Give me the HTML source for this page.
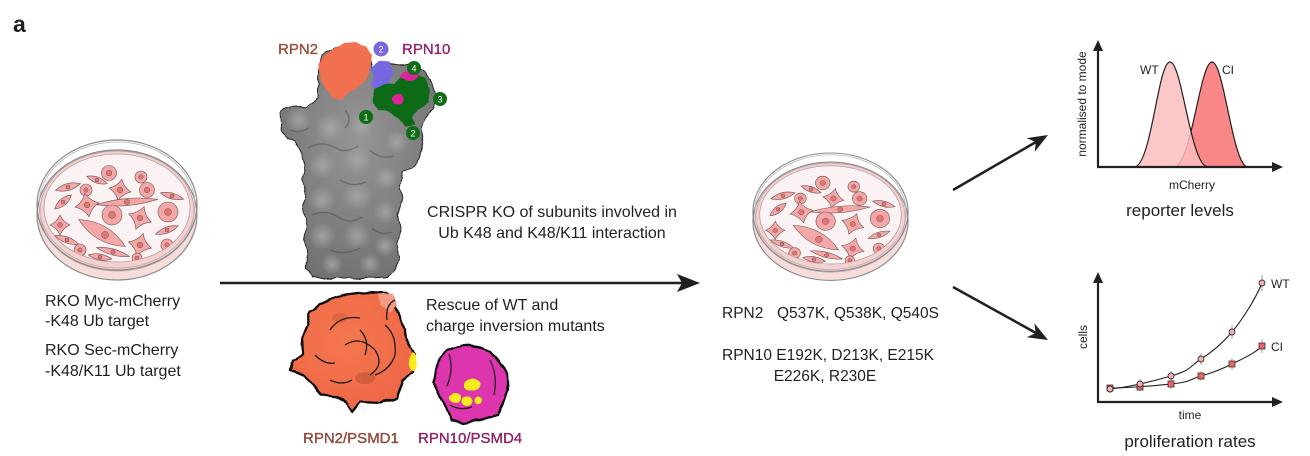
<!DOCTYPE html>
<html><head><meta charset="utf-8"><style>
html,body{margin:0;padding:0;background:#fff;}
svg{display:block;}
</style></head><body>
<svg width="1310" height="456" viewBox="0 0 1310 456" xmlns="http://www.w3.org/2000/svg" font-family="'Liberation Sans', sans-serif">
<defs>
 <filter id="bump" x="-10%" y="-10%" width="120%" height="120%"><feTurbulence type="fractalNoise" baseFrequency="0.13" numOctaves="1" seed="4" result="n"/><feDisplacementMap in="SourceGraphic" in2="n" scale="4" xChannelSelector="R" yChannelSelector="G"/></filter>
 <filter id="bump2" x="-10%" y="-10%" width="120%" height="120%"><feTurbulence type="fractalNoise" baseFrequency="0.1" numOctaves="1" seed="9" result="n"/><feDisplacementMap in="SourceGraphic" in2="n" scale="4" xChannelSelector="R" yChannelSelector="G"/></filter>
 <radialGradient id="gg" cx="50%" cy="40%" r="65%"><stop offset="0" stop-color="#969696"/><stop offset="1" stop-color="#707070"/></radialGradient>
 <radialGradient id="hl"><stop offset="0" stop-color="#a8a8a8" stop-opacity=".85"/><stop offset="1" stop-color="#a8a8a8" stop-opacity="0"/></radialGradient>
 <radialGradient id="og" cx="45%" cy="40%" r="65%"><stop offset="0" stop-color="#f5774f"/><stop offset="1" stop-color="#ee6746"/></radialGradient>
 <clipPath id="dishclip"><ellipse cx="0" cy="-2" rx="73" ry="54"/></clipPath>
 <g id="dish">
  <ellipse cx="0" cy="5" rx="80" ry="65" fill="#f7dcdc" stroke="#8a8a8a" stroke-width="1.2"/>
  <ellipse cx="0" cy="1" rx="77" ry="60" fill="#f4d0d0" stroke="#b49a9a" stroke-width=".7"/>
  <ellipse cx="0" cy="-2" rx="73" ry="54" fill="#fbf3f3" stroke="#b89c9c" stroke-width=".8"/>
  <g clip-path="url(#dishclip)">
   <g fill="#f3a7a7" stroke="#6e5050" stroke-width=".6">
    <circle cx="-8" cy="-37" r="7.5"/>
    <circle cx="24" cy="-33" r="6"/>
    <path d="M-11,0 Q0,-6 11,0 Q0,6 -11,0Z" transform="translate(-20,-30) rotate(20)"/>
    <path d="M-13,0 Q0,-7 13,0 Q0,7 -13,0Z" transform="translate(-49,-23) rotate(-15)"/>
    <circle cx="-31" cy="-20" r="6"/>
    <path d="M-11,0 Q-3.3,-3.3 0,-11 Q3.3,-3.3 11,0 Q3.3,3.3 0,11 Q-3.3,3.3 -11,0Z" transform="translate(3,-20) rotate(10)"/>
    <circle cx="30" cy="-20" r="7.5"/>
    <path d="M-12,0 Q0,-6 12,0 Q0,6 -12,0Z" transform="translate(55,-14) rotate(15)"/>
    <path d="M-11,0 Q0,-7 11,0 Q0,7 -11,0Z" transform="translate(-54,-8) rotate(-40)"/>
    <path d="M-12,0 Q-3.6,-3.6 0,-12 Q3.6,-3.6 12,0 Q3.6,3.6 0,12 Q-3.6,3.6 -12,0Z" transform="translate(-30,-5) rotate(-10)"/>
    <path d="M-31,0 Q0,-7 31,0 Q0,7 -31,0Z" transform="translate(10,-8) rotate(-5)"/>
    <circle cx="-5" cy="5" r="10"/>
    <path d="M-12,0 Q-3.6,-3.6 0,-12 Q3.6,-3.6 12,0 Q3.6,3.6 0,12 Q-3.6,3.6 -12,0Z" transform="translate(23,8) rotate(20)"/>
    <circle cx="51" cy="2" r="10"/>
    <path d="M-10,0 Q-3,-3 0,-10 Q3,-3 10,0 Q3,3 0,10 Q-3,3 -10,0Z" transform="translate(-57,15)"/>
    <path d="M-27,0 Q0,-14 27,0 Q0,14 -27,0Z" transform="translate(-15,23) rotate(30)"/>
    <path d="M-12,0 Q0,-6 12,0 Q0,6 -12,0Z" transform="translate(50,20) rotate(-20)"/>
    <path d="M-12,0 Q-3.6,-3.6 0,-12 Q3.6,-3.6 12,0 Q3.6,3.6 0,12 Q-3.6,3.6 -12,0Z" transform="translate(23,35) rotate(15)"/>
    <path d="M-13,0 Q0,-6 13,0 Q0,6 -13,0Z" transform="translate(-50,30) rotate(20)"/>
    <circle cx="-37" cy="40" r="6"/>
    <path d="M-17,0 Q0,-6 17,0 Q0,6 -17,0Z" transform="translate(-4,42) rotate(15)"/>
    <circle cx="20" cy="48" r="5"/>
    <circle cx="50" cy="35" r="6"/>
    <path d="M-12,0 Q0,-6 12,0 Q0,6 -12,0Z" transform="translate(-17,47) rotate(10)"/>
   </g>
   <g fill="#e27676" stroke="#6e5050" stroke-width=".5">
    <circle cx="-8" cy="-37" r="2.8"/><circle cx="24" cy="-33" r="2.2"/><circle cx="-20" cy="-30" r="2"/>
    <circle cx="-49" cy="-23" r="2"/><circle cx="-31" cy="-20" r="2.2"/><circle cx="3" cy="-20" r="2.8"/>
    <circle cx="30" cy="-20" r="2.8"/><circle cx="55" cy="-14" r="2"/><circle cx="-54" cy="-8" r="2"/>
    <circle cx="-30" cy="-5" r="2.8"/><circle cx="10" cy="-8" r="2.6"/><circle cx="-5" cy="5" r="3.5"/>
    <circle cx="23" cy="8" r="2.8"/><circle cx="51" cy="2" r="3.5"/><circle cx="-57" cy="15" r="2.4"/>
    <circle cx="-12" cy="25" r="3.5"/><circle cx="50" cy="20" r="2"/><circle cx="23" cy="35" r="2.8"/>
    <circle cx="-50" cy="30" r="2"/><circle cx="-37" cy="40" r="2.2"/><circle cx="-4" cy="42" r="2.2"/>
    <circle cx="20" cy="48" r="2"/><circle cx="50" cy="35" r="2.2"/><circle cx="-17" cy="47" r="2"/>
   </g>
  </g>
  <ellipse cx="0" cy="-5" rx="80" ry="65" fill="none" stroke="#8a8a8a" stroke-width="1.2"/>
  <ellipse cx="0" cy="-5" rx="78" ry="63" fill="none" stroke="#b0b0b0" stroke-width=".8"/>
 </g>
</defs>

<rect width="1310" height="456" fill="#fff"/>

<text x="13" y="32" font-size="23" font-weight="bold" fill="#231f20">a</text>

<use href="#dish" transform="translate(117,210)"/>

<g font-size="16" fill="#231f20">
 <text x="45" y="306">RKO Myc-mCherry</text>
 <text x="45" y="326">-K48 Ub target</text>
 <text x="45" y="355">RKO Sec-mCherry</text>
 <text x="45" y="376">-K48/K11 Ub target</text>
</g>

<!-- gray proteasome -->
<g filter="url(#bump)">
 <polygon fill="url(#gg)" stroke="#2a2a2a" stroke-width="1" stroke-linejoin="round" points="281,125 280,113 286,107 296,106 305,108 312,104 318,98 318,70 322,55 335,48 350,44 362,48 370,58 372,68 385,62 398,66 412,63 425,72 432,82 436,96 433,108 426,118 421,128 423,142 420,158 412,168 403,172 400,185 402,200 398,215 401,230 397,245 399,260 394,272 385,278 370,277 355,279 340,277 325,279 312,276 306,268 308,255 304,240 307,225 303,210 306,195 302,180 305,165 301,152 296,142 288,138 282,132"/>
</g>
<g>
 <circle cx="298" cy="120" r="13" fill="url(#hl)"/><circle cx="330" cy="128" r="15" fill="url(#hl)"/>
 <circle cx="362" cy="125" r="12" fill="url(#hl)"/><circle cx="397" cy="142" r="12" fill="url(#hl)"/>
 <circle cx="322" cy="165" r="14" fill="url(#hl)"/><circle cx="357" cy="160" r="14" fill="url(#hl)"/>
 <circle cx="386" cy="178" r="12" fill="url(#hl)"/><circle cx="322" cy="200" r="14" fill="url(#hl)"/>
 <circle cx="357" cy="196" r="15" fill="url(#hl)"/><circle cx="385" cy="212" r="12" fill="url(#hl)"/>
 <circle cx="322" cy="236" r="14" fill="url(#hl)"/><circle cx="357" cy="236" r="14" fill="url(#hl)"/>
 <circle cx="385" cy="246" r="11" fill="url(#hl)"/><circle cx="332" cy="264" r="11" fill="url(#hl)"/>
 <circle cx="370" cy="264" r="11" fill="url(#hl)"/>
 <g fill="none" stroke="#4f4f4f" stroke-width="1.3" opacity=".55">
  <path d="M308,148 q14,-8 28,0 q10,6 22,-2"/>
  <path d="M340,180 q12,8 26,2"/>
  <path d="M370,150 q10,10 24,6"/>
  <path d="M312,215 q14,-6 26,2 q12,8 24,0"/>
  <path d="M330,250 q14,6 30,-2"/>
  <path d="M372,228 q8,8 20,4"/>
  <path d="M290,130 q10,4 18,-2"/>
  <path d="M345,110 q8,10 0,18"/>
 </g>
</g>

<g filter="url(#bump2)">
 <polygon fill="#f0704f" points="320,78 318,65 325,55 335,48 345,43 356,42 366,46 372,55 370,68 366,80 358,88 348,92 342,100 332,98 326,88"/>
 <polygon fill="#7567e0" points="370,68 379,61 390,62 394,72 390,80 386,90 377,92 371,84 373,76"/>
 <polygon fill="#0b6b12" points="372,100 375,88 385,85 395,84 401,76 412,73 425,78 430,90 428,103 418,110 412,118 415,125 405,126 398,118 388,112 378,110"/>
 <ellipse cx="409" cy="76" rx="9" ry="5" fill="#e0209c"/>
 <circle cx="398" cy="99" r="5.5" fill="#e0209c"/>
</g>
<g font-size="9" fill="#fff" text-anchor="middle">
 <circle cx="381" cy="49" r="7.5" fill="#7a66dd"/><text x="381" y="52.5">2</text>
 <circle cx="414" cy="68" r="7" fill="#0f6e15"/><text x="414" y="71.5">4</text>
 <circle cx="440" cy="99" r="7" fill="#0f6e15"/><text x="440" y="102.5">3</text>
 <circle cx="366" cy="117" r="7" fill="#0f6e15"/><text x="366" y="120.5">1</text>
 <circle cx="413" cy="133" r="7" fill="#0f6e15"/><text x="413" y="136.5">2</text>
</g>
<text x="278" y="54" font-size="15" fill="#b0503c" stroke="#7a3428" stroke-width=".3">RPN2</text>
<text x="402" y="54" font-size="15" fill="#a81c74" stroke="#6e1250" stroke-width=".3">RPN10</text>

<g font-size="16" fill="#231f20" text-anchor="middle">
 <text x="552" y="217">CRISPR KO of subunits involved in</text>
 <text x="552" y="238">Ub K48 and K48/K11 interaction</text>
</g>

<line x1="220" y1="283" x2="686" y2="283" stroke="#231f20" stroke-width="2.5"/>
<path d="M700,283 L677,274 L682,283 L677,292 Z" fill="#231f20"/>

<g font-size="16" fill="#231f20">
 <text x="426" y="310">Rescue of WT and</text>
 <text x="426" y="331">charge inversion mutants</text>
</g>

<!-- lower orange protein -->
<g filter="url(#bump2)">
 <polygon fill="url(#og)" stroke="#111" stroke-width="2.3" stroke-linejoin="round" points="310,312 328,300 342,295 357,293 370,292 387,293 395,305 400,317 407,340 415,355 413,372 403,380 397,398 380,403 360,402 352,412 347,403 337,397 322,395 310,382 303,375 290,370 293,360 303,355 302,338 307,325"/>
 <polygon fill="#f59a85" points="378,294 392,293 398,305 390,313 381,306"/>
 <ellipse cx="413" cy="362" rx="4" ry="9" fill="#f7ec16"/>
</g>
<g fill="none" stroke="#1a1a1a" stroke-width="1.3">
 <path d="M330,330 q10,-15 30,-12"/>
 <path d="M345,345 q15,-10 30,5 q10,15 -5,25"/>
 <path d="M360,330 q10,10 5,25"/>
 <path d="M385,325 q12,10 10,30 q-5,15 -20,20"/>
 <path d="M315,355 q10,10 20,8"/>
 <path d="M395,300 q-10,5 -8,20"/>
 <path d="M330,380 q12,6 22,0"/>
</g>
<ellipse cx="365" cy="378" rx="10" ry="6" fill="#8a3a25" opacity=".3"/>
<ellipse cx="340" cy="318" rx="8" ry="5" fill="#8a3a25" opacity=".2"/>

<!-- magenta protein -->
<g filter="url(#bump2)">
 <polygon fill="#dc34ae" stroke="#111" stroke-width="2.3" stroke-linejoin="round" points="447,350 462,345 478,347 490,352 500,362 507,373 508,390 503,405 497,415 480,420 463,423 452,420 447,410 440,397 433,383 435,370 440,358"/>
 <ellipse cx="472" cy="385" rx="8" ry="6" fill="#f5ee1a"/>
 <ellipse cx="455" cy="398" rx="6" ry="5" fill="#f5ee1a"/>
 <ellipse cx="467" cy="401" rx="5" ry="4" fill="#f5ee1a"/>
 <ellipse cx="478" cy="400" rx="4" ry="4" fill="#f5ee1a"/>
</g>
<g fill="none" stroke="#1a1a1a" stroke-width="1.2">
 <path d="M449,354 q5,15 -2,32"/>
 <path d="M490,360 q8,15 4,35"/>
 <path d="M450,405 q10,6 22,2"/>
</g>

<g font-size="15">
 <text x="303" y="443" fill="#a04a3c" stroke="#6e3026" stroke-width=".3">RPN2/PSMD1</text>
 <text x="418" y="443" fill="#a01c70" stroke="#6a1048" stroke-width=".3">RPN10/PSMD4</text>
</g>

<use href="#dish" transform="translate(830.5,216.7) scale(0.97,0.91)"/>

<g font-size="15.5" fill="#231f20">
 <text x="722" y="318">RPN2</text>
 <text x="777" y="318">Q537K, Q538K, Q540S</text>
 <text x="722" y="360">RPN10 E192K, D213K, E215K</text>
 <text x="825" y="381" text-anchor="middle">E226K, R230E</text>
</g>

<line x1="953" y1="190" x2="1036" y2="142" stroke="#231f20" stroke-width="2.5"/>
<path d="M1048,135 L1034.7,151.9 L1035.9,142 L1026.7,138.1 Z" fill="#231f20"/>
<line x1="953" y1="287" x2="1036" y2="333" stroke="#231f20" stroke-width="2.5"/>
<path d="M1048,340 L1026.6,337.3 L1035.8,333.2 L1034.4,323.3 Z" fill="#231f20"/>

<!-- histogram plot -->
<path d="M1175,167 C1192,162 1200,62 1212,62 C1224,62 1232,162 1247,167 Z" fill="#f98787" stroke="#231f20" stroke-width="1.2"/>
<path d="M1135,167 C1152,162 1158,62 1170,62 C1182,62 1190,162 1207,167 Z" fill="#fbbdbd" fill-opacity=".85" stroke="#231f20" stroke-width="1.2"/>
<line x1="1098" y1="167" x2="1098" y2="48" stroke="#231f20" stroke-width="2.2"/>
<path d="M1098,40 L1093,51 L1103,51 Z" fill="#231f20"/>
<line x1="1097" y1="167" x2="1275" y2="167" stroke="#231f20" stroke-width="2.2"/>
<path d="M1283,167 L1272,162 L1272,172 Z" fill="#231f20"/>
<g font-size="12" fill="#231f20">
 <text x="1140" y="74">WT</text>
 <text x="1222" y="74">CI</text>
 <text x="1192" y="189" text-anchor="middle">mCherry</text>
 <text transform="translate(1086,104) rotate(-90)" text-anchor="middle">normalised to mode</text>
</g>
<text x="1180" y="216" font-size="17" fill="#231f20" text-anchor="middle">reporter levels</text>

<!-- proliferation plot -->
<line x1="1098" y1="402" x2="1098" y2="280" stroke="#231f20" stroke-width="2.2"/>
<path d="M1098,272 L1093,283 L1103,283 Z" fill="#231f20"/>
<line x1="1097" y1="402" x2="1275" y2="402" stroke="#231f20" stroke-width="2.2"/>
<path d="M1283,402 L1272,397 L1272,407 Z" fill="#231f20"/>
<g stroke="#888" stroke-width=".8">
 <line x1="1110" y1="385" x2="1110" y2="393"/><line x1="1140" y1="379" x2="1140" y2="390"/>
 <line x1="1171" y1="371" x2="1171" y2="381"/><line x1="1201" y1="353" x2="1201" y2="365"/>
 <line x1="1232" y1="325" x2="1232" y2="339"/><line x1="1262" y1="275" x2="1262" y2="291"/>
 <line x1="1140" y1="383" x2="1140" y2="391"/><line x1="1171" y1="379" x2="1171" y2="389"/>
 <line x1="1201" y1="371" x2="1201" y2="381"/><line x1="1232" y1="358" x2="1232" y2="370"/>
 <line x1="1262" y1="339" x2="1262" y2="353"/>
</g>
<path d="M1110,389 C1130,387 1150,382 1171,376 S1190,366 1201,359 S1222,344 1232,332 S1255,300 1262,283" fill="none" stroke="#231f20" stroke-width="1.1"/>
<path d="M1110,388 C1130,388 1150,386 1171,384 S1190,379 1201,376 S1222,369 1232,364 S1254,354 1262,346" fill="none" stroke="#231f20" stroke-width="1.1"/>
<g fill="#f06262" stroke="#333" stroke-width=".8">
 <rect x="1107" y="385" width="6" height="6"/><rect x="1137" y="384" width="6" height="6"/>
 <rect x="1168" y="381" width="6" height="6"/><rect x="1198" y="373" width="6" height="6"/>
 <rect x="1229" y="361" width="6" height="6"/><rect x="1259" y="343" width="6" height="6"/>
</g>
<g fill="#f7b0b0" stroke="#333" stroke-width=".9">
 <circle cx="1110" cy="389" r="3"/><circle cx="1140" cy="384" r="3"/>
 <circle cx="1171" cy="376" r="3"/><circle cx="1201" cy="359" r="3"/>
 <circle cx="1232" cy="332" r="3"/><circle cx="1262" cy="283" r="3"/>
</g>
<g font-size="12" fill="#231f20">
 <text x="1271" y="288">WT</text>
 <text x="1271" y="351">CI</text>
 <text x="1190" y="419" text-anchor="middle">time</text>
 <text transform="translate(1087,337) rotate(-90)" text-anchor="middle">cells</text>
</g>
<text x="1190" y="447" font-size="17" fill="#231f20" text-anchor="middle">proliferation rates</text>
</svg>
</body></html>
